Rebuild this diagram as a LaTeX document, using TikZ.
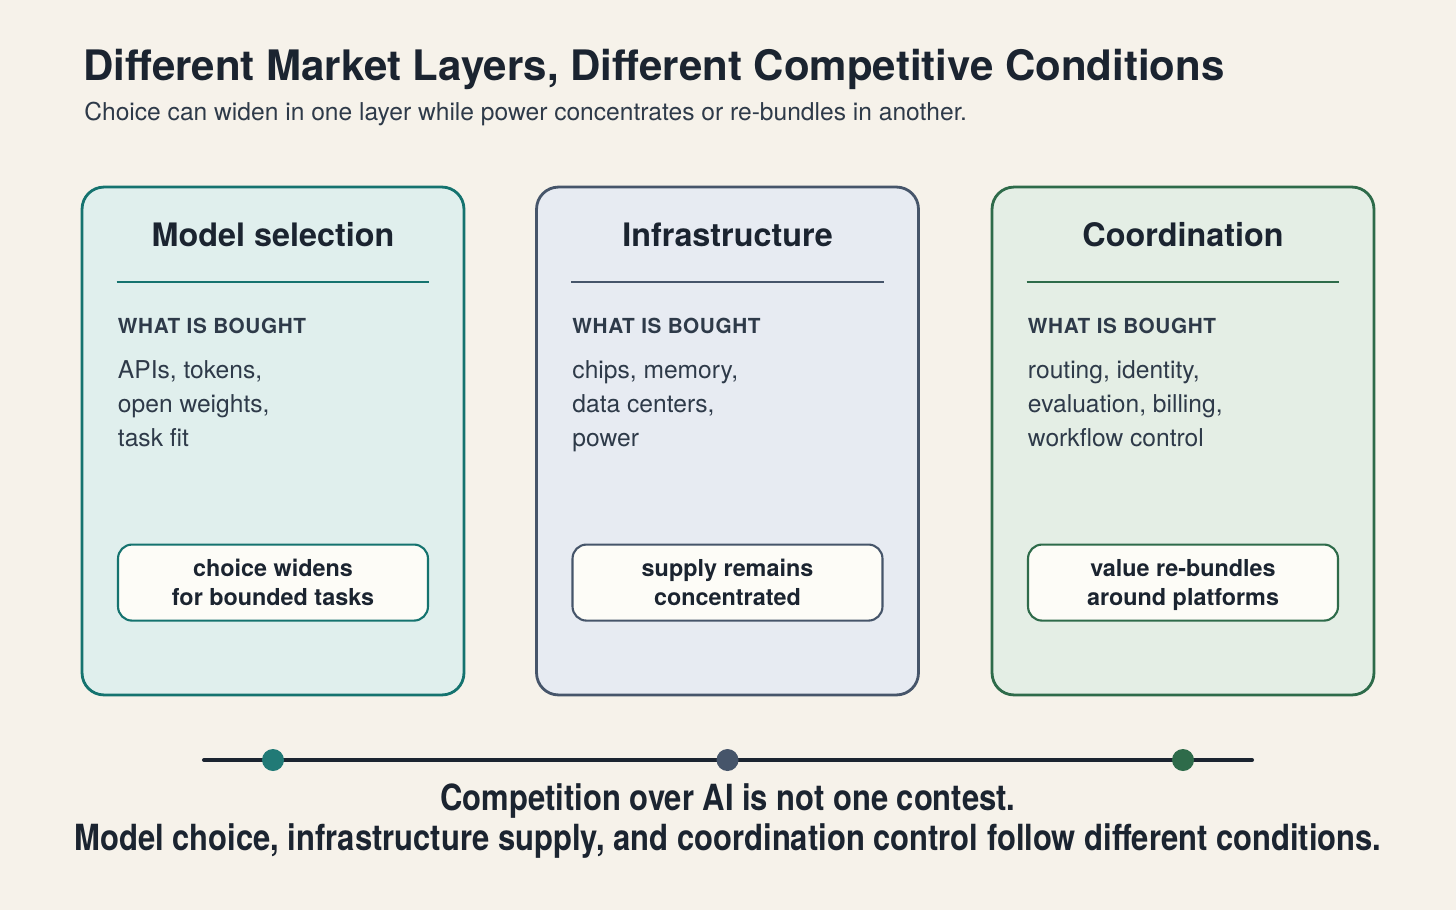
\documentclass[tikz,border=0pt]{standalone}
\usepackage{fontspec}
\setmainfont{TeX Gyre Heros}
\newfontfamily\narrowfont[FakeStretch=0.86]{TeX Gyre Heros}
\usepackage{tikz}
\usetikzlibrary{positioning}
\definecolor{paper}{HTML}{F6F2EA}
\definecolor{ink}{HTML}{1B2430}
\definecolor{slateink}{HTML}{2E3A49}
\definecolor{teal}{HTML}{15736F}
\definecolor{tealbox}{HTML}{E0EFED}
\definecolor{slate}{HTML}{46556A}
\definecolor{slatebox}{HTML}{E7EBF2}
\definecolor{forest}{HTML}{2E6B4A}
\definecolor{forestbox}{HTML}{E4EEE5}
\definecolor{pillbox}{HTML}{FDFCF7}
% two pill lines, with a taller first row so the pair sits a little low
\newcommand{\pillrows}[2]{\rule{0pt}{14.9pt}#1\\#2\strut}

\begin{document}
\begin{tikzpicture}[
  x=0.02cm, y=-0.02cm,
  card/.style={draw=#1,line width=1.6pt,rounded corners=0.44cm,minimum width=7.64cm,minimum height=10.16cm,inner sep=0},
  head/.style={anchor=base,inner sep=0,text=ink,font=\fontsize{18.4}{22}\selectfont\bfseries},
  rule/.style={draw=#1,line width=1.2pt},
  tag/.style={anchor=base west,inner sep=0,text=slateink,font=\fontsize{11.8}{14}\selectfont\bfseries\addfontfeature{LetterSpace=3}},
  body/.style={anchor=north west,inner sep=0,align=left,text=slateink,font=\fontsize{14}{19.3}\selectfont},
  pill/.style={draw=#1,fill=pillbox,line width=1.2pt,rounded corners=0.28cm,minimum width=6.2cm,minimum height=1.48cm,
    align=center,text=ink,font=\fontsize{13.3}{16.7}\selectfont\bfseries},
  dot/.style={circle,fill=#1,minimum size=0.44cm,inner sep=0}
]
\fill[paper] (0,0) rectangle (1456,910);

% title and subtitle
\node[anchor=base west,inner sep=0,text=ink,font=\fontsize{23.9}{28}\selectfont\bfseries] (title) at (83,80)
  {Different Market Layers, Different Competitive Conditions};
\node[anchor=base west,inner sep=0,text=slateink,font=\fontsize{14}{17}\selectfont] (subtitle) at (84,120)
  {Choice can widen in one layer while power concentrates or re-bundles in another.};

% the three layers
\node[card=teal,fill=tealbox] (model) at (273,441) {};
\node[card=slate,fill=slatebox] (infra) at (727.5,441) {};
\node[card=forest,fill=forestbox] (coord) at (1183,441) {};

\node[head] (modelhead) at ([yshift=-1.22cm]model.north) {Model selection};
\node[head] (infrahead) at ([yshift=-1.22cm]infra.north) {Infrastructure};
\node[head] (coordhead) at ([yshift=-1.22cm]coord.north) {Coordination};

\draw[rule=teal] ([xshift=0.72cm,yshift=-1.92cm]model.north west) -- ([xshift=-0.72cm,yshift=-1.92cm]model.north east);
\draw[rule=slate] ([xshift=0.72cm,yshift=-1.92cm]infra.north west) -- ([xshift=-0.72cm,yshift=-1.92cm]infra.north east);
\draw[rule=forest] ([xshift=0.72cm,yshift=-1.92cm]coord.north west) -- ([xshift=-0.72cm,yshift=-1.92cm]coord.north east);

\node[tag] (modeltag) at ([xshift=0.74cm,yshift=-2.96cm]model.north west) {WHAT IS BOUGHT};
\node[tag] (infratag) at ([xshift=0.74cm,yshift=-2.96cm]infra.north west) {WHAT IS BOUGHT};
\node[tag] (coordtag) at ([xshift=0.74cm,yshift=-2.96cm]coord.north west) {WHAT IS BOUGHT};

\node[body] (modelbody) at ([xshift=0.74cm,yshift=-3.49cm]model.north west) {APIs, tokens,\\open weights,\\task fit};
\node[body] (infrabody) at ([xshift=0.74cm,yshift=-3.49cm]infra.north west) {chips, memory,\\data centers,\\power};
\node[body] (coordbody) at ([xshift=0.74cm,yshift=-3.49cm]coord.north west) {routing, identity,\\evaluation, billing,\\workflow control};

\node[pill=teal] (modelpill) at ([yshift=-7.94cm]model.north) {\pillrows{choice widens}{for bounded tasks}};
\node[pill=slate] (infrapill) at ([yshift=-7.94cm]infra.north) {\pillrows{supply remains}{concentrated}};
\node[pill=forest] (coordpill) at ([yshift=-7.94cm]coord.north) {\pillrows{value re-bundles}{around platforms}};

% timeline
\coordinate (tlstart) at (204,760);
\coordinate (tlend) at (1252,760);
\draw[ink,line width=2.3pt,line cap=round] (tlstart) -- (tlend);
\node[dot=teal!95!white] (modeldot) at (model.center |- tlstart) {};
\node[dot=slate] (infradot) at (infra.center |- tlstart) {};
\node[dot=forest] (coorddot) at (coord.center |- tlstart) {};

\node[align=center,inner sep=0,text=ink,font=\narrowfont\fontsize{20.5}{22.7}\selectfont\bfseries] (summary) at (728,821)
  {Competition over AI is not one contest.\\Model choice, infrastructure supply, and coordination control follow different conditions.};
\end{tikzpicture}
\end{document}
